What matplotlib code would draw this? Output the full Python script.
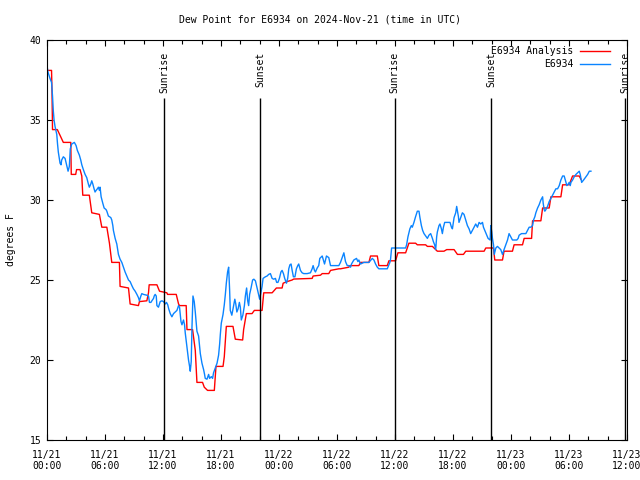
import numpy as np
import pandas as pd
import matplotlib
matplotlib.use("Agg")
import matplotlib.pyplot as plt
import matplotlib.dates as mdates

# hours since 2024-11-21 00:00 UTC, dew point in F
obs_hours = [0.0, 0.10, 0.21, 0.31, 0.47, 0.57, 0.65, 0.73, 0.83, 1.01, 1.09, 1.17, 1.35, 1.45, 1.52,
             1.69, 1.87, 2.02, 2.18, 2.31, 2.41, 2.56, 2.83, 3.01, 3.14, 3.35, 3.49, 3.60, 3.76, 3.94,
             4.11, 4.28, 4.38, 4.53, 4.63, 4.74, 4.87, 4.97, 5.08, 5.21, 5.32, 5.42, 5.49, 5.60, 5.77,
             5.91, 6.11, 6.19, 6.35, 6.60, 6.70, 6.81, 6.87, 7.05, 7.22, 7.39, 7.56, 7.74, 7.91, 8.08,
             8.26, 8.43, 8.60, 8.78, 8.94, 9.12, 9.30, 9.46, 9.56, 9.71, 9.81, 9.98, 10.33, 10.50, 10.60,
             10.75, 10.85, 11.02, 11.09, 11.19, 11.30, 11.37, 11.53, 11.71, 11.89, 12.05, 12.23, 12.36,
             12.49, 12.59, 12.75, 12.92, 13.09, 13.26, 13.44, 13.61, 13.71, 13.86, 13.96, 14.12, 14.23,
             14.30, 14.48, 14.64, 14.75, 14.82, 14.92, 15.00, 15.10, 15.23, 15.34, 15.51, 15.68, 15.86,
             16.03, 16.20, 16.30, 16.37, 16.55, 16.72, 16.82, 17.00, 17.13, 17.23, 17.41, 17.59, 17.75,
             17.86, 17.93, 18.03, 18.21, 18.34, 18.45, 18.55, 18.68, 18.79, 18.89, 18.96, 19.12, 19.31,
             19.43, 19.53, 19.64, 19.77, 19.90, 20.00, 20.10, 20.26, 20.42, 20.52, 20.65, 20.76, 20.86,
             20.96, 21.11, 21.27, 21.40, 21.56, 21.69, 21.81, 22.00, 22.15, 22.25, 22.35, 22.59, 22.77,
             22.93, 23.11, 23.29, 23.45, 23.63, 23.76, 23.89, 24.04, 24.20, 24.32, 24.46, 24.59, 24.77,
             24.90, 25.01, 25.13, 25.25, 25.36, 25.49, 25.65, 25.80, 25.94, 26.04, 26.22, 26.39, 26.56,
             26.91, 27.25, 27.43, 27.53, 27.67, 27.77, 27.95, 28.11, 28.22, 28.47, 28.71, 28.91, 29.15,
             29.33, 29.85, 30.19, 30.36, 30.54, 30.71, 30.88, 31.06, 31.22, 31.40, 31.50, 31.74, 32.02,
             32.16, 32.26, 32.36, 32.44, 32.78, 33.30, 33.65, 33.82, 33.99, 34.17, 34.33, 35.03, 35.20,
             35.47, 35.54, 35.65, 36.06, 36.58, 37.10, 37.20, 37.34, 37.54, 37.69, 37.79, 37.96, 38.13,
             38.31, 38.48, 38.58, 38.73, 38.86, 39.00, 39.17, 39.35, 39.51, 39.69, 39.87, 39.97, 40.10,
             40.21, 40.31, 40.38, 40.55, 40.65, 40.80, 40.90, 41.01, 41.14, 41.69, 41.84, 41.94, 42.11,
             42.28, 42.38, 42.46, 42.56, 42.62, 42.80, 42.97, 43.14, 43.32, 43.49, 43.66, 43.83, 44.01,
             44.18, 44.35, 44.53, 44.70, 44.87, 45.05, 45.15, 45.29, 45.49, 45.63, 45.84, 45.91, 46.01,
             46.08, 46.19, 46.27, 46.43, 46.60, 46.77, 46.94, 47.12, 47.28, 47.46, 47.64, 47.80, 47.98,
             48.15, 48.60, 48.74, 48.84, 49.09, 49.54, 49.71, 49.88, 50.05, 50.23, 50.33, 50.47, 50.57,
             50.75, 50.91, 51.09, 51.27, 51.33, 51.43, 51.50, 51.61, 51.78, 51.95, 52.13, 52.30, 52.47,
             52.64, 52.82, 52.99, 53.16, 53.34, 53.50, 53.68, 53.78, 53.92, 54.02, 54.13, 54.20, 54.37,
             54.54, 54.72, 54.89, 55.06, 55.16, 55.31, 55.51, 55.75, 55.93, 56.10, 56.27]
obs_dewpt = [38.4, 38.0, 37.8, 37.6, 37.35, 36.5, 35.6, 35.0, 34.6, 34.1, 33.5, 33.0, 32.3, 32.2, 32.5,
             32.7, 32.6, 32.2, 31.8, 32.1, 33.2, 33.5, 33.6, 33.4, 33.1, 32.8, 32.5, 32.2, 31.9, 31.6,
             31.4, 31.0, 30.8, 31.0, 31.2, 31.0, 30.7, 30.5, 30.6, 30.7, 30.8, 30.6, 30.8, 30.2, 29.8,
             29.5, 29.4, 29.3, 29.0, 28.9, 28.75, 28.4, 28.1, 27.6, 27.25, 26.6, 26.3, 26.1, 25.8, 25.5,
             25.25, 25.0, 24.9, 24.65, 24.45, 24.3, 24.1, 23.9, 23.7, 24.0, 24.15, 24.1, 24.05, 24.0, 23.6,
             23.6, 23.7, 23.85, 24.0, 24.1, 24.0, 23.4, 23.3, 23.65, 23.7, 23.65, 23.5, 23.6,
             23.45, 23.2, 22.9, 22.7, 22.9, 23.0, 23.1, 23.4, 23.3, 22.4, 22.2, 22.5, 22.2,
             21.7, 20.8, 20.0, 19.6, 19.3, 19.9, 22.1, 24.0, 23.65, 23.0, 21.8, 21.5, 20.4,
             19.8, 19.4, 19.1, 18.85, 18.8, 19.1, 18.85, 18.96, 18.85, 19.2, 19.5, 19.8, 20.3,
             21.0, 21.6, 22.3, 22.85, 23.45, 24.1, 24.8, 25.5, 25.8, 24.4, 23.1, 22.8, 23.4,
             23.8, 23.5, 23.0, 23.2, 23.6, 23.3, 22.5, 22.8, 23.4, 24.0, 24.5, 23.7, 23.4,
             24.1, 24.5, 25.0, 25.05, 24.95, 24.6, 24.3, 23.8, 24.3, 24.6, 25.1, 25.2, 25.25,
             25.35, 25.4, 25.1, 25.05, 25.1, 24.85, 24.85, 25.1, 25.5, 25.6, 25.4, 25.1, 24.8,
             25.1, 25.7, 25.95, 26.0, 25.6, 25.2, 25.2, 25.7, 25.9, 26.0, 25.6, 25.45, 25.4,
             25.4, 25.45, 25.7, 25.9, 25.6, 25.5, 25.75, 25.9, 26.35, 26.5, 26.0, 26.5, 26.4,
             25.9, 25.9, 25.9, 26.1, 26.4, 26.7, 26.15, 25.9, 25.9, 25.8, 26.0, 26.25, 26.35,
             26.15, 26.25, 26.1, 26.0, 26.1, 26.1, 26.35, 26.25, 26.0, 25.8, 25.7, 25.7, 25.7,
             26.1, 26.3, 27.0, 27.0, 27.0, 27.0, 27.2, 27.7, 28.2, 28.4, 28.3, 28.6, 28.96,
             29.3, 29.3, 28.9, 28.4, 28.1, 27.9, 27.75, 27.6, 27.8, 27.9, 27.6, 27.4, 27.2,
             26.9, 27.7, 28.0, 28.4, 28.5, 28.2, 27.9, 28.3, 28.6, 28.6, 28.3, 28.2, 28.9,
             29.2, 29.6, 29.3, 28.96, 28.6, 28.9, 29.2, 29.1, 28.75, 28.4, 28.2, 27.9, 28.1,
             28.3, 28.5, 28.3, 28.6, 28.5, 28.6, 28.3, 28.1, 27.8, 27.6, 27.5, 28.4, 28.0,
             27.6, 27.2, 26.6, 27.0, 27.1, 27.0, 26.9, 26.6, 26.9, 27.2, 27.5, 27.9, 27.7,
             27.5, 27.5, 27.6, 27.8, 27.9, 27.9, 28.1, 28.3, 28.3, 28.4, 28.75, 28.96, 29.2,
             29.5, 29.7, 30.0, 30.2, 29.8, 29.4, 29.3, 29.4, 29.6, 29.9, 30.1, 30.3, 30.5,
             30.7, 30.7, 30.9, 31.25, 31.5, 31.5, 31.1, 30.9, 31.0, 31.1, 30.9, 31.1, 31.25,
             31.45, 31.6, 31.7, 31.8, 31.6, 31.1, 31.25, 31.45, 31.6, 31.8, 31.8]

ana_hours = [0.0, 0.47, 0.52, 0.57, 1.07, 1.69, 2.46, 2.51, 2.97, 3.06, 3.42, 3.60, 3.70, 4.38, 4.63,
             5.42, 5.67, 6.19, 6.46, 6.70, 7.49, 7.56, 8.43, 8.60, 9.46, 9.56, 10.33, 10.50, 10.57,
             11.37, 11.64, 12.40, 12.47, 13.37, 13.61, 13.71, 14.40, 14.48, 15.06, 15.34, 15.51, 16.09,
             16.27, 16.61, 17.31, 17.48, 18.21, 18.34, 18.55, 19.24, 19.48, 20.24, 20.34, 20.62, 21.21,
             21.45, 22.25, 22.42, 23.29, 23.73, 24.32, 24.43, 24.84, 25.36, 25.52, 27.43, 27.53, 28.29,
             28.47, 29.15, 29.33, 30.19, 30.36, 31.22, 31.33, 32.26, 32.44, 33.30, 33.47, 34.17, 34.33,
             35.20, 35.37, 36.06, 36.30, 37.10, 37.44, 38.13, 38.31, 39.17, 39.35, 39.87, 40.38, 41.07,
             41.35, 42.11, 42.46, 43.08, 43.32, 45.22, 45.39, 46.19, 46.32, 47.12, 47.28, 48.15, 48.32,
             49.19, 49.36, 50.13, 50.23, 51.09, 51.27, 51.95, 52.13, 53.16, 53.34, 54.02, 54.37, 55.06,
             55.23]
ana_dewpt = [38.1, 38.1, 36.7, 34.4, 34.4, 33.6, 33.6, 31.6, 31.6, 31.9, 31.9, 31.5, 30.3, 30.3, 29.2,
             29.1, 28.3, 28.3, 27.3, 26.1, 26.1, 24.6, 24.5, 23.5, 23.4, 23.65, 23.7, 24.2, 24.7,
             24.7, 24.3, 24.2, 24.1, 24.1, 23.5, 23.4, 23.4, 21.9, 21.9, 20.6, 18.6, 18.6,
             18.3, 18.1, 18.1, 19.6, 19.6, 20.2, 22.1, 22.1, 21.3, 21.25, 21.9, 22.9, 22.9,
             23.1, 23.1, 24.2, 24.2, 24.5, 24.5, 24.8, 24.9, 25.0, 25.06, 25.1, 25.25, 25.3,
             25.4, 25.4, 25.6, 25.7, 25.7, 25.8, 25.9, 25.9, 26.1, 26.1, 26.5, 26.5, 25.9,
             25.9, 26.2, 26.2, 26.7, 26.7, 27.3, 27.3, 27.2, 27.2, 27.1, 27.1, 26.8, 26.8,
             26.9, 26.9, 26.6, 26.6, 26.8, 26.8, 27.0, 27.0, 26.25, 26.25, 26.8, 26.8, 27.2,
             27.2, 27.6, 27.6, 28.7, 28.7, 29.5, 29.5, 30.2, 30.2, 30.95, 30.95, 31.5, 31.5,
             31.3]

event_hours = [12.12, 22.07, 35.98, 45.93, 59.82]
event_names = ["Sunrise", "Sunset", "Sunrise", "Sunset", "Sunrise"]

t0 = pd.Timestamp("2024-11-21 00:00")
obs_t = t0 + pd.to_timedelta(obs_hours, unit="h")
ana_t = t0 + pd.to_timedelta(ana_hours, unit="h")
ev_t = t0 + pd.to_timedelta(event_hours, unit="h")

plt.rcParams['font.family'] = 'DejaVu Sans Mono'
plt.rcParams['font.size'] = 7

fig = plt.figure(figsize=(6.4, 4.8), dpi=100)
ax = fig.add_axes([47/640, 40/480, 580/640, 400/480])

ax.plot(ana_t, ana_dewpt, color='#ff0000', lw=1.0, label='E6934 Analysis')
ax.plot(obs_t, obs_dewpt, color='#0a84ff', lw=1.0, label='E6934')

# sunrise / sunset markers
for t, name in zip(ev_t, event_names):
    ax.vlines(t, 15, 36.4, color='black', lw=1.0)
    ax.text(t, 39.25, name, rotation=90, ha='center', va='top')

ax.set_xlim(t0, t0 + pd.Timedelta(hours=60))
ax.set_ylim(15, 40)
ax.set_yticks([15, 20, 25, 30, 35, 40])
ax.xaxis.set_major_locator(mdates.HourLocator(byhour=[0, 6, 12, 18]))
ax.xaxis.set_minor_locator(mdates.HourLocator(interval=2))
ax.xaxis.set_major_formatter(mdates.DateFormatter('%m/%d\n%H:%M'))
ax.tick_params(which='both', direction='in', top=True, right=True, width=0.8)
ax.tick_params(which='major', length=4)
ax.tick_params(which='minor', length=3)
ax.tick_params(axis='x', pad=7)
ax.tick_params(axis='y', pad=4)
for s in ax.spines.values():
    s.set_linewidth(0.8)

ax.set_ylabel('degrees F', labelpad=10)
fig.text(0.5, 1 - 20/480, 'Dew Point for E6934 on 2024-Nov-21 (time in UTC)', ha='center', va='center')

ax.legend(loc='upper right', bbox_to_anchor=(0.971, 0.985), frameon=False, markerfirst=False,
          borderpad=0, borderaxespad=0, handlelength=3.1, handletextpad=0.7, labelspacing=0.35)

fig.savefig('out.png', dpi=100)
